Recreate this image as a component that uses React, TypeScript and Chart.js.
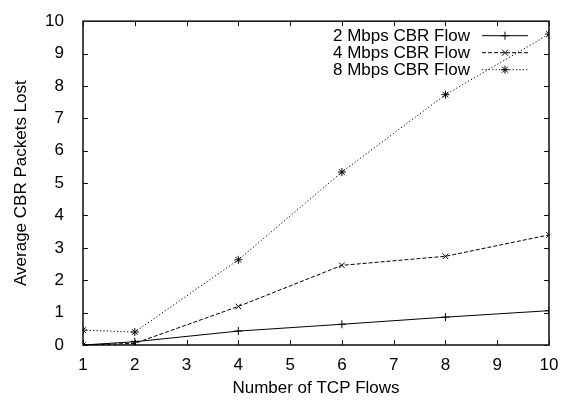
import React, { useEffect, useRef } from "react";
import { Chart, registerables } from "chart.js";

Chart.register(...registerables);

const flows = [1, 2, 4, 6, 8, 10];
const cbr2 = [0, 0.1, 0.43, 0.64, 0.86, 1.06];
const cbr4 = [0, 0.05, 1.19, 2.46, 2.74, 3.4];
const cbr8 = [0.46, 0.4, 2.63, 5.34, 7.73, 9.6];
const seriesLabels = ["2 Mbps CBR Flow", "4 Mbps CBR Flow", "8 Mbps CBR Flow"];
const xTicks = [1, 2, 3, 4, 5, 6, 7, 8, 9, 10];
const yTicks = [0, 1, 2, 3, 4, 5, 6, 7, 8, 9, 10];

const FONT = '"Liberation Sans", Arial, Helvetica, sans-serif';
const FS = 17;

function drawMarker(ctx: CanvasRenderingContext2D, style: string, x: number, y: number, r: number) {
  ctx.beginPath();
  const plus = () => {
    ctx.moveTo(x - r, y); ctx.lineTo(x + r, y);
    ctx.moveTo(x, y - r); ctx.lineTo(x, y + r);
  };
  const cross = () => {
    const d = r * 0.75;
    ctx.moveTo(x - d, y - d); ctx.lineTo(x + d, y + d);
    ctx.moveTo(x - d, y + d); ctx.lineTo(x + d, y - d);
  };
  if (style === "cross") plus();
  else if (style === "crossRot") cross();
  else { plus(); cross(); }
  ctx.stroke();
}

const framePlugin = {
  id: "gpFrame",
  beforeDatasetsDraw(chart: any) {
    const { ctx, chartArea } = chart;
    const { left, right, top, bottom } = chartArea;
    const xs = chart.scales.x;
    const ys = chart.scales.y;
    const tl = 5;
    ctx.save();
    ctx.strokeStyle = "#111";
    ctx.lineWidth = 1;
    ctx.beginPath();
    xTicks.forEach((v) => {
      const px = Math.round(xs.getPixelForValue(v)) + 0.5;
      ctx.moveTo(px, bottom); ctx.lineTo(px, bottom - tl);
      ctx.moveTo(px, top); ctx.lineTo(px, top + tl);
    });
    yTicks.forEach((v) => {
      const py = Math.round(ys.getPixelForValue(v)) + 0.5;
      ctx.moveTo(left, py); ctx.lineTo(left + tl, py);
      ctx.moveTo(right, py); ctx.lineTo(right - tl, py);
    });
    ctx.stroke();
    ctx.lineWidth = 1.6;
    ctx.strokeStyle = "#1a1a1a";
    ctx.strokeRect(left, top, right - left, bottom - top);
    ctx.restore();
  },
};

const legendPlugin = {
  id: "gpLegend",
  afterDatasetsDraw(chart: any) {
    const { ctx, chartArea } = chart;
    const textRight = chartArea.right - 79;
    const sL = chartArea.right - 67;
    const sR = chartArea.right - 21;
    ctx.save();
    chart.data.datasets.forEach((ds: any, i: number) => {
      const y = chartArea.top + 14 + i * 17;
      ctx.font = `${FS}px ${FONT}`;
      ctx.textAlign = "right";
      ctx.textBaseline = "middle";
      ctx.fillStyle = "#000";
      ctx.fillText(ds.label, textRight, y + 1);
      ctx.strokeStyle = ds.borderColor;
      ctx.lineWidth = ds.borderWidth;
      ctx.setLineDash(ds.borderDash || []);
      ctx.beginPath();
      ctx.moveTo(sL, y + 0.5);
      ctx.lineTo(sR, y + 0.5);
      ctx.stroke();
      ctx.setLineDash([]);
      drawMarker(ctx, ds.pointStyle, (sL + sR) / 2, y + 0.5, 4);
    });
    ctx.restore();
  },
};

export default function App() {
  const ref = useRef<HTMLCanvasElement>(null);
  useEffect(() => {
    if (!ref.current) return;
    const mk = (label: string, vals: number[], dash: number[], ps: string) => ({
      label,
      data: flows.map((f, i) => ({ x: f, y: vals[i] })),
      borderColor: "#000",
      backgroundColor: "#000",
      borderWidth: 1,
      borderDash: dash,
      pointStyle: ps,
      pointRadius: 4,
      pointBorderWidth: 1,
      pointBorderColor: "#000",
      pointBackgroundColor: "#000",
      fill: false,
      tension: 0,
    });
    const chart = new Chart(ref.current, {
      type: "line",
      data: {
        datasets: [
          mk(seriesLabels[0], cbr2, [], "cross"),
          mk(seriesLabels[1], cbr4, [4, 2], "crossRot"),
          mk(seriesLabels[2], cbr8, [1.2, 2.2], "star"),
        ],
      },
      options: {
        responsive: false,
        animation: false,
        devicePixelRatio: 1,
        layout: { padding: { left: 0, right: 23, top: 16, bottom: 0 } },
        plugins: { legend: { display: false }, tooltip: { enabled: false } },
        scales: {
          x: {
            type: "linear",
            min: 1,
            max: 10,
            grid: { display: false },
            border: { display: false },
            ticks: {
              stepSize: 1,
              padding: 2,
              color: "#000",
              font: { family: FONT, size: FS },
            },
            title: {
              display: true,
              text: "Number of TCP Flows",
              color: "#000",
              font: { family: FONT, size: FS },
              padding: { top: 0, bottom: 2 },
            },
            afterFit: (s: any) => { s.height = 56; },
          },
          y: {
            type: "linear",
            min: 0,
            max: 10,
            grid: { display: false },
            border: { display: false },
            ticks: {
              stepSize: 1,
              padding: 11,
              color: "#000",
              font: { family: FONT, size: FS },
            },
            title: {
              display: true,
              text: "Average CBR Packets Lost",
              color: "#000",
              font: { family: FONT, size: FS },
              padding: { top: 11, bottom: 0 },
            },
            afterFit: (s: any) => { s.width = 83; },
          },
        },
      },
      plugins: [framePlugin, legendPlugin],
    } as any);
    return () => chart.destroy();
  }, []);
  return (
    <div style={{ position: "absolute", left: 0, top: 0, width: 572, height: 401, background: "#fff" }}>
      <canvas ref={ref} width={572} height={401} />
    </div>
  );
}
